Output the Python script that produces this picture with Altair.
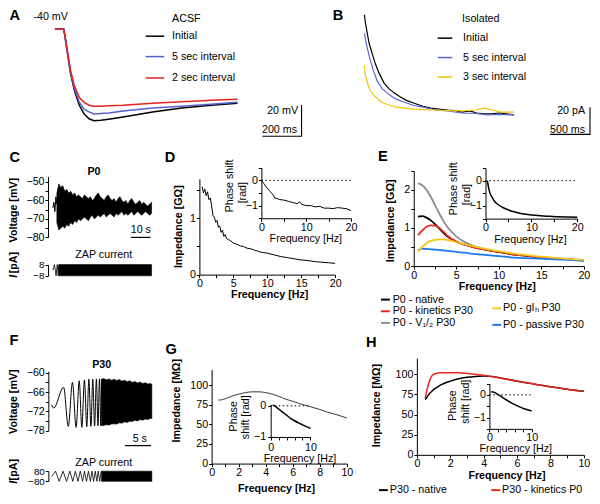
import json
import altair as alt
import pandas as pd

# ------------------------------------------------------------------ data
# A  ACSF: voltage responses (time ms, voltage mV)
a_time = [0, 45, 50, 65, 80, 100, 125, 150, 175, 200, 235, 275, 350, 500, 650, 800, 935]
a_initial = [-40, -40, -43.4, -55.9, -68.4, -79.7, -89.1, -94.7, -97.8, -99.1, -98.8, -98.1, -96.6, -93.4, -90.9, -89.1, -87.8]
a_5s = [-40, -40, -43.4, -55.9, -67.8, -78.4, -87.2, -91.6, -93.4, -94.7, -94.4, -94.1, -92.8, -90.9, -89.7, -88.4, -87.2]
a_2s = [-40, -40, -43.4, -54.7, -66.6, -76.6, -84.1, -87.2, -89.1, -89.7, -89.7, -89.4, -89.1, -87.8, -86.9, -85.9, -85.3]
a_bar_t = [1063, 1263, 1263]
a_bar_v = [-109, -109, -89]

# B  Isolated: currents (time ms, current pA)
b_init_t = [0, 12, 37, 61, 98, 134, 183, 244, 305, 366, 439, 525, 622, 732, 830, 927, 1037, 1135, 1220, 1318, 1403, 1500, 1586, 1684, 1769, 1867]
b_init_i = [73.6, 67.9, 59.3, 52.1, 45.0, 37.9, 30.7, 23.6, 19.3, 16.4, 13.6, 10.7, 8.6, 6.4, 5.0, 4.3, 3.6, 3.2, 2.1, 2.9, 1.4, 0.7, 0.7, 1.4, 0.7, 0]
b_5s_t = [0, 24, 61, 110, 159, 220, 281, 342, 403, 500, 610, 732, 891, 1037, 1220, 1379, 1537, 1684, 1867]
b_5s_i = [60.0, 52.1, 42.9, 32.9, 25.0, 19.3, 16.4, 13.6, 11.4, 9.3, 7.1, 5.7, 3.6, 2.9, 1.4, 1.1, 0, 0.4, 0]
b_3s_t = [0, 12, 37, 73, 122, 183, 244, 317, 403, 500, 610, 744, 891, 1037, 1220, 1379, 1500, 1598, 1708, 1867]
b_3s_i = [36.4, 29.3, 23.6, 17.9, 14.3, 10.7, 8.6, 7.1, 5.7, 5.0, 4.3, 3.9, 3.6, 3.2, 2.9, 3.6, 5.0, 3.6, 2.1, 2.1]
b_bar_t = [2318, 2818, 2818]
b_bar_i = [-14.3, -14.3, 5.7]

# C  P0 ZAP response (time s, voltage mV), envelope of the dense trace
c_start_t = [0, 0.5, 1.0, 1.5, 2.0]
c_start_v = [-64, -61, -66, -58, -62]
c_time = [2, 3, 4, 5, 6, 7, 8, 9, 10, 11, 12, 13, 14, 15, 16, 17, 18, 19, 20, 21, 22, 23, 24, 25, 26,
          27, 28, 29, 30, 31, 32, 33, 34, 35, 36, 37, 38, 39, 40, 41, 42, 43, 44, 45, 46, 47, 48, 49, 50]
c_upper = [-56, -51, -53, -52, -55, -54, -56, -55, -57, -56, -58, -57, -58, -59, -57, -58, -59, -58, -60,
           -59, -57, -56, -58, -59, -60, -58, -57, -59, -60, -59, -61, -59, -58, -60, -61, -60, -62, -60,
           -59, -61, -62, -61, -60, -62, -61, -62, -63, -62, -61]
c_lower = [-72, -76, -75, -74, -75, -73, -74, -72, -73, -71, -72, -70, -71, -70, -69, -70, -71, -69, -68,
           -70, -69, -68, -69, -68, -67, -69, -68, -67, -68, -69, -67, -68, -67, -66, -68, -67, -68, -67,
           -66, -68, -67, -66, -67, -68, -67, -66, -67, -68, -67]
c_bar_t = [39.5, 49.5]
c_bar_v = [-80, -80]
c_zap_t = [0, 0.8, 1.6, 2.2, 2.7, 3.0]
c_zap_i = [0, 8, -8, 8, -8, 8]
c_zapblk_t = [3.0, 50]
c_zapblk_lo = [-8, -8]
c_zapblk_hi = [8, 8]

# D  P0 impedance (Hz, GOhm) and phase (rad)
d_f = [0.4, 0.6, 0.8, 1.0, 1.2, 1.4, 1.6, 1.8, 2.0, 2.2, 2.4, 2.6, 2.8, 3.0, 3.2, 3.4, 3.6, 3.8, 4.0,
       4.3, 4.6, 5.0, 5.5, 6.0, 6.5, 7.0, 7.5, 8.0, 8.5, 9.0, 9.5, 10, 11, 12, 13, 14, 15, 16, 17, 18, 19, 20]
d_z = [1.56, 1.45, 1.52, 1.40, 1.47, 1.33, 1.36, 1.22, 1.05, 1.02, 0.93, 0.96, 0.84, 0.86, 0.75, 0.79, 0.68, 0.71, 0.64,
       0.62, 0.60, 0.56, 0.54, 0.51, 0.50, 0.47, 0.46, 0.44, 0.42, 0.40, 0.39, 0.38, 0.35, 0.32, 0.30, 0.28, 0.26,
       0.25, 0.23, 0.22, 0.21, 0.20]
di_f = [0, 0.5, 1, 1.5, 2, 2.5, 3, 3.5, 4, 5, 6, 7, 8, 8.5, 9, 10, 11, 12, 13, 14, 15, 16, 17, 18, 19, 20]
di_p = [0, -0.12, -0.25, -0.35, -0.45, -0.55, -0.7, -0.72, -0.76, -0.78, -0.83, -0.88, -0.92, -0.85, -0.95,
        -1.0, -1.0, -1.05, -1.03, -1.1, -1.1, -1.12, -1.08, -1.1, -1.12, -1.2]

# E  P0 model impedance (Hz, GOhm)
e_f = [0.5, 1, 1.5, 2, 2.5, 3, 3.5, 4, 5, 6, 7, 8, 10, 12, 14, 16, 18, 20]
e_native = [1.30, 1.31, 1.27, 1.20, 1.10, 0.98, 0.87, 0.77, 0.64, 0.56, 0.50, 0.45, 0.37, 0.30, 0.25, 0.21, 0.18, 0.15]
e_kinetics = [0.81, 0.93, 1.03, 1.07, 1.06, 1.00, 0.90, 0.79, 0.64, 0.56, 0.50, 0.45, 0.37, 0.30, 0.25, 0.21, 0.18, 0.15]
e_vhalf = [2.17, 2.12, 2.00, 1.82, 1.60, 1.38, 1.18, 1.01, 0.78, 0.63, 0.53, 0.46, 0.37, 0.30, 0.25, 0.21, 0.18, 0.15]
e_gh = [0.38, 0.50, 0.60, 0.66, 0.69, 0.70, 0.70, 0.68, 0.63, 0.57, 0.52, 0.47, 0.39, 0.32, 0.27, 0.23, 0.19, 0.16]
e_passive = [0.42, 0.45, 0.45, 0.44, 0.43, 0.42, 0.41, 0.40, 0.37, 0.35, 0.32, 0.30, 0.26, 0.22, 0.20, 0.18, 0.16, 0.14]
ei_f = [0.4, 0.7, 1, 1.5, 2, 2.5, 3, 4, 5, 6, 8, 10, 12, 14, 16, 18, 20]
ei_p = [0, -0.3, -0.5, -0.68, -0.82, -0.91, -0.98, -1.08, -1.16, -1.22, -1.31, -1.36, -1.39, -1.41, -1.43, -1.44, -1.45]

# F  P30 ZAP response (time s, voltage mV / current pA)
f_chirp_t = [0, 0.4, 2.3, 3.2, 4.0, 4.7, 5.3, 5.8, 6.3, 6.75, 7.15, 7.55, 7.9, 8.25, 8.6, 8.9, 9.2, 9.45, 9.6]
f_chirp_v = [-70, -71, -64.5, -76.7, -63, -77, -62.5, -77, -62.2, -76.8, -62, -76.7, -62, -76.6, -61.9, -76.5, -61.9, -76.5, -62]
f_blk_t = [9.6, 10, 10.5, 11, 11.5, 12, 12.5, 13, 13.5, 14, 14.5, 15, 15.5, 16, 16.5, 17, 17.5, 18, 18.5, 19, 19.25]
f_blk_hi = [-62, -61.8, -62.2, -61.9, -62.3, -62, -62.4, -62.1, -62.6, -62.3, -62.8, -62.5, -63, -62.7, -63.2,
            -62.9, -63.3, -63.1, -63.5, -63.3, -63.6]
f_blk_lo = [-76.5, -76.4, -76.2, -76.3, -76, -75.9, -76, -75.6, -75.7, -75.3, -75.5, -75.1, -75.2, -74.8, -75,
            -74.6, -74.8, -74.4, -74.6, -74.2, -74.3]
f_bar_t = [14.1, 19.1]
f_bar_v = [-82.7, -82.7]
f_zap_t = [0, 0.75, 1.44, 2.19, 2.88, 3.5, 4.06, 4.56, 5.06, 5.5, 5.94, 6.31, 6.69, 7.06, 7.44, 7.75, 8.06,
           8.38, 8.69, 8.94, 9.25, 9.5]
f_zap_i = [0, 80, -80, 80, -80, 80, -80, 80, -80, 80, -80, 80, -80, 80, -80, 80, -80, 80, -80, 80, -80, 80]
f_zapblk_t = [9.6, 19.25]
f_zapblk_lo = [-80, -80]
f_zapblk_hi = [80, 80]

# G  P30 impedance (Hz, MOhm) and phase (rad)
g_f = [0.5, 0.8, 1.2, 1.6, 2.0, 2.5, 3.0, 3.5, 4.0, 4.5, 5.0, 5.5, 6.0, 6.5, 7, 7.5, 8, 8.5, 9, 9.5, 10]
g_z = [81, 81.5, 84, 86.7, 88.5, 90.5, 91.5, 91.5, 90.5, 88.5, 85.5, 82, 79.5, 76.5, 74, 71.5, 69, 66, 63.5, 61, 58]
gi_f = [0.5, 1, 2, 3, 4, 5, 6, 7, 8, 9, 10]
gi_p = [0.02, 0.0, -0.1, -0.2, -0.3, -0.4, -0.48, -0.55, -0.61, -0.67, -0.72]

# H  P30 model impedance (Hz, MOhm) and phase (rad)
h_f = [0.5, 0.6, 0.7, 0.8, 0.9, 1.0, 1.25, 1.5, 2, 2.5, 3, 3.5, 4, 5, 6, 7, 8, 9, 10]
h_native = [68.8, 71.5, 74.5, 77, 79, 81, 84.5, 87.5, 91.5, 94.5, 96.3, 97.3, 97.8, 95.5, 91.5, 88, 84.5, 81.5, 79]
h_kinetics = [70.5, 80, 88, 94, 98, 100, 101.5, 102, 102, 101.8, 101, 100, 98.7, 95.5, 91.5, 88, 84.5, 81.5, 79]
hi_f = [0.4, 1, 2, 3, 4, 5, 6, 7, 8, 9, 10]
hi_p = [0.14, 0.12, 0.02, -0.1, -0.22, -0.33, -0.43, -0.52, -0.6, -0.66, -0.71]

# ------------------------------------------------------------------ layout helpers
W, H = 584, 488
SX = 582 / 596
SY = 486 / 500
FONT = "Liberation Sans"
FS = 10.7
LS = 14.6


def X(px):
    return (px - 2) * SX


def Y(py):
    return (py - 3) * SY


def xs(d0, d1, p0, p1):
    return alt.Scale(domain=[d0, d1], range=[X(p0), X(p1)], nice=False, zero=False)


def ys(d0, d1, p0, p1):
    return alt.Scale(domain=[d0, d1], range=[Y(p0), Y(p1)], nice=False, zero=False)


def lbl(shown):
    return "indexof(" + json.dumps(shown) + ", datum.value) >= 0 ? datum.label : ''"


def _axis(**kw):
    base = dict(title=None, grid=False, domainColor="black", domainWidth=1, tickColor="black",
                tickSize=3, tickWidth=1, labelFont=FONT, labelFontSize=FS, labelColor="black",
                labelPadding=1, labelFlush=False, labelOverlap=False, format="~f")
    base.update(kw)
    return alt.Axis(**base)


def xaxis(py, values, shown, **kw):
    return _axis(orient="bottom", offset=Y(py) - H, values=values, labelExpr=lbl(shown), **kw)


def yaxis(px, values, shown, **kw):
    return _axis(orient="left", offset=-X(px), values=values, labelExpr=lbl(shown), **kw)


def df(**cols):
    return pd.DataFrame(cols)


def line(data, xsc, ysc, color, width=1.2, xa=None, ya=None, interp=None, dash=None, ordered=False):
    kw = dict(color=color, strokeWidth=width)
    if interp:
        kw["interpolate"] = interp
    if dash:
        kw["strokeDash"] = dash
    enc = dict(x=alt.X("x:Q", scale=xsc, axis=xa), y=alt.Y("y:Q", scale=ysc, axis=ya))
    if ordered:
        enc["order"] = alt.Order("i:Q")
    return alt.Chart(data).mark_line(**kw).encode(**enc)


def area(data, xsc, ysc, color, ya=None):
    return alt.Chart(data).mark_area(color=color, opacity=1, stroke=color, strokeWidth=0.6).encode(
        x=alt.X("x:Q", scale=xsc, axis=None),
        y=alt.Y("lo:Q", scale=ysc, axis=ya),
        y2=alt.Y2("hi:Q"))


def txt(px, py, s, size=FS, bold=False, italic=False, align="center", angle=0):
    kw = dict(text=s, fontSize=size, font=FONT, align=align, baseline="middle", color="black")
    if bold:
        kw["fontWeight"] = "bold"
    if italic:
        kw["fontStyle"] = "italic"
    if angle:
        kw["angle"] = angle
    return alt.Chart(alt.Data(values=[{}])).mark_text(**kw).encode(x=alt.value(X(px)), y=alt.value(Y(py)))


def seg(px0, px1, py, color, width=1.5):
    return alt.Chart(alt.Data(values=[{}])).mark_rule(color=color, strokeWidth=width).encode(
        x=alt.value(X(px0)), x2=alt.value(X(px1)), y=alt.value(Y(py)))


layers = []

# ------------------------------------------------------------------ A
xA = xs(0, 1000, 50, 250)
yA = ys(-100, -40, 120.5, 24.5)
layers += [
    line(df(x=a_time, y=a_initial), xA, yA, "black", 1.5),
    line(df(x=a_time, y=a_5s), xA, yA, "#5560cc", 1.5),
    line(df(x=a_time, y=a_2s), xA, yA, "#e52421", 1.5),
    line(df(x=a_bar_t, y=a_bar_v, i=[0, 1, 2]), xA, yA, "black", 1.1, ordered=True),
]
layers += [
    txt(9, 11, "A", LS, bold=True),
    txt(28, 12.5, "-40 mV", align="left"),
    txt(170, 14, "ACSF", align="left"),
    seg(143, 162, 32, "black"), txt(170, 32, "Initial", align="left"),
    seg(143, 162, 53, "#5560cc"), txt(170, 53, "5 sec interval", align="left"),
    seg(143, 162, 75, "#e52421"), txt(170, 75, "2 sec interval", align="left"),
    txt(299, 109, "20 mV", align="right"),
    txt(298, 129, "200 ms", align="right"),
]

# ------------------------------------------------------------------ B
xB = xs(0, 2000, 367, 367 + 2000 / 12.2)
yB = ys(0, 80, 113, 113 - 80 * 1.4)
layers += [
    line(df(x=b_init_t, y=b_init_i), xB, yB, "black", 1.2),
    line(df(x=b_5s_t, y=b_5s_i), xB, yB, "#5a66d0", 1.2),
    line(df(x=b_3s_t, y=b_3s_i), xB, yB, "#f2c200", 1.2),
    line(df(x=b_bar_t, y=b_bar_i, i=[0, 1, 2]), xB, yB, "black", 1.1, ordered=True),
]
layers += [
    txt(340, 11, "B", LS, bold=True),
    txt(467, 14, "Isolated", align="left"),
    seg(442, 457, 34, "black"), txt(468, 34, "Initial", align="left"),
    seg(442, 457, 54, "#5a66d0"), txt(468, 54, "5 sec interval", align="left"),
    seg(442, 457, 74, "#f2c200"), txt(468, 74, "3 sec interval", align="left"),
    txt(593, 109, "20 pA", align="right"),
    txt(593, 128, "500 ms", align="right"),
]

# ------------------------------------------------------------------ C
xC = xs(0, 50, 48, 149)
yCv = ys(-80, -47, 239, 176.3)
yCi = ys(-8, 8, 278.5, 267)
layers += [
    area(df(x=c_time, lo=c_lower, hi=c_upper), xC, yCv, "black",
         ya=yaxis(43, [-80, -75, -70, -65, -60, -55, -50], [-80, -70, -60, -50])),
    line(df(x=c_start_t, y=c_start_v), xC, yCv, "black", 1),
    line(df(x=c_bar_t, y=c_bar_v), xC, yCv, "black", 1.2),
    area(df(x=c_zapblk_t, lo=c_zapblk_lo, hi=c_zapblk_hi), xC, yCi, "black",
         ya=yaxis(43, [-8, 8], [-8, 8], labelFontSize=9.8)),
    line(df(x=c_zap_t, y=c_zap_i), xC, yCi, "black", 0.8),
]
layers += [
    txt(9, 157, "C", LS, bold=True),
    txt(90, 172, "P0", bold=True),
    txt(8.5, 211, "Voltage [mV]", bold=True, angle=270),
    txt(138, 231.5, "10 s"),
    txt(100, 257, "ZAP current"),
    txt(8.5, 265, "[pA]", bold=True, angle=270),
    txt(8.5, 279, "I", bold=True, italic=True, angle=270),
]

# ------------------------------------------------------------------ D
xD = xs(0, 20, 198, 337)
yD = ys(0, 1.7, 277.3, 178.7)
xDi = xs(0, 20, 261.5, 353.3)
yDi = ys(-1.5, 0.5, 219.3, 167.3)
layers += [
    line(df(x=d_f, y=d_z), xD, yD, "black", 1,
         xa=xaxis(277.3, [0, 2.5, 5, 7.5, 10, 12.5, 15, 17.5, 20], [0, 5, 10, 15, 20]),
         ya=yaxis(198, [0, 0.5, 1, 1.5], [0, 1])),
    line(df(x=[0, 20], y=[0, 0]), xDi, yDi, "black", 1, dash=[1.5, 2.5]),
    line(df(x=di_f, y=di_p), xDi, yDi, "black", 1,
         xa=xaxis(219.3, [0, 5, 10, 15, 20], [0, 10, 20]),
         ya=yaxis(261.5, [-1.5, -1, -0.5, 0, 0.5], [-1, 0])),
]
layers += [
    txt(168, 157, "D", LS, bold=True),
    txt(177, 228, "Impedance [GΩ]", bold=True, angle=270),
    txt(270, 298, "Frequency [Hz]", bold=True),
    txt(229, 186, "Phase shift", angle=270),
    txt(242.5, 193, "[rad]", angle=270),
    txt(307, 241, "Frequency [Hz]"),
]

# ------------------------------------------------------------------ E
xE = xs(0, 20, 417.5, 591.7)
yE = ys(0, 2.5, 268.5, 170.5)
xEi = xs(0, 20, 491, 585)
yEi = ys(-1.5, 0.5, 219.7, 167.7)
e_cols = [(e_vhalf, "#8c8c8c"), (e_native, "black"), (e_kinetics, "#e8281e"),
          (e_passive, "#1e78f0"), (e_gh, "#f5c518")]
for k, (vals, col) in enumerate(e_cols):
    if k == 0:
        layers.append(line(df(x=e_f, y=vals), xE, yE, col, 1.8, interp="monotone",
                           xa=xaxis(268.5, [0, 2.5, 5, 7.5, 10, 12.5, 15, 17.5, 20], [0, 5, 10, 15, 20]),
                           ya=yaxis(417.5, [0, 0.5, 1, 1.5, 2, 2.5], [0, 1, 2])))
    else:
        layers.append(line(df(x=e_f, y=vals), xE, yE, col, 1.8, interp="monotone"))
layers += [
    line(df(x=[0, 20], y=[0, 0]), xEi, yEi, "black", 1, dash=[1.5, 2.5]),
    line(df(x=ei_f, y=ei_p), xEi, yEi, "black", 1.5, interp="monotone",
         xa=xaxis(219.7, [0, 5, 10, 15, 20], [0, 10, 20]),
         ya=yaxis(491, [-1.5, -1, -0.5, 0, 0.5], [-1, 0])),
]
layers += [
    txt(386, 156, "E", LS, bold=True),
    txt(394, 222, "Impedance [GΩ]", bold=True, angle=270),
    txt(503, 290.5, "Frequency [Hz]", bold=True),
    txt(458.5, 189, "Phase shift", angle=270),
    txt(472, 195, "[rad]", angle=270),
    txt(537, 241.5, "Frequency [Hz]"),
    seg(384, 393, 303, "black", 2), txt(396, 303, "P0 - native", align="left"),
    seg(384, 393, 315, "#e8281e", 2), txt(396, 315, "P0 - kinetics P30", align="left"),
    seg(384, 393, 327, "#8c8c8c", 2), txt(396, 327, "P0 - V₁/₂ P30", align="left"),
    seg(498, 507, 312, "#f5c518", 2), txt(509, 312, "P0 - gIₕ P30", align="left"),
    seg(498, 507, 329, "#1e78f0", 2), txt(509, 329, "P0 - passive P30", align="left"),
]

# ------------------------------------------------------------------ F
xF = xs(0, 19.25, 46.7, 149.3)
yFv = ys(-78, -59.5, 437.7, 376.65)
yFi = ys(-80, 80, 490, 479.5)
layers += [
    area(df(x=f_blk_t, lo=f_blk_lo, hi=f_blk_hi), xF, yFv, "black",
         ya=yaxis(43.3, [-78, -75, -72, -69, -66, -63, -60], [-78, -72, -66, -60])),
    line(df(x=f_chirp_t, y=f_chirp_v), xF, yFv, "black", 1, interp="monotone"),
    line(df(x=f_bar_t, y=f_bar_v), xF, yFv, "black", 1.2),
    area(df(x=f_zapblk_t, lo=f_zapblk_lo, hi=f_zapblk_hi), xF, yFi, "black",
         ya=yaxis(43.3, [-80, 80], [-80, 80], labelFontSize=9.8)),
    line(df(x=f_zap_t, y=f_zap_i), xF, yFi, "black", 0.8),
]
layers += [
    txt(8, 346, "F", LS, bold=True),
    txt(98, 370, "P30", bold=True),
    txt(8.5, 408, "Voltage [mV]", bold=True, angle=270),
    txt(137, 446.5, "5 s"),
    txt(100, 471.5, "ZAP current"),
    txt(8.5, 478, "[pA]", bold=True, angle=270),
    txt(8.5, 491, "I", bold=True, italic=True, angle=270),
]

# ------------------------------------------------------------------ G
xG = xs(0, 10, 210.5, 349)
yG = ys(0, 120, 471.7, 374.9)
xGi = xs(0, 10, 271, 311.7)
yGi = ys(-1, 0.05, 444.3, 410.7)
layers += [
    line(df(x=g_f, y=g_z), xG, yG, "#222222", 0.9, interp="monotone",
         xa=xaxis(471.7, [0, 1, 2, 3, 4, 5, 6, 7, 8, 9, 10], [0, 2, 4, 6, 8, 10]),
         ya=yaxis(210.5, [0, 25, 50, 75, 100], [0, 25, 50, 75, 100])),
    line(df(x=[0, 10], y=[0, 0]), xGi, yGi, "black", 1, dash=[1.5, 2.5]),
    line(df(x=gi_f, y=gi_p), xGi, yGi, "black", 1.5, interp="monotone",
         xa=xaxis(444.3, [0, 2, 4, 6, 8, 10], [0, 10], labelPadding=2.5),
         ya=yaxis(271, [-1, 0], [-1, 0], labelPadding=2)),
]
layers += [
    txt(169, 355, "G", LS, bold=True),
    txt(175, 407, "Impedance [MΩ]", bold=True, angle=270),
    txt(277, 497.5, "Frequency [Hz]", bold=True),
    txt(233, 423, "Phase", angle=270),
    txt(246, 424, "shift [rad]", angle=270),
    txt(301, 466.5, "Frequency [Hz]"),
]

# ------------------------------------------------------------------ H
xH = xs(0, 10, 420.7, 591.7)
yH = ys(0, 120, 462.7, 363.3)
xHi = xs(0, 10, 495, 538.3)
yHi = ys(-1.5, 0.5, 436, 389.35)
layers += [
    line(df(x=h_f, y=h_native), xH, yH, "black", 1.5, interp="monotone",
         xa=xaxis(462.7, [0, 1, 2, 3, 4, 5, 6, 7, 8, 9, 10], [0, 2, 4, 6, 8, 10]),
         ya=yaxis(420.7, [0, 25, 50, 75, 100], [0, 25, 50, 75, 100])),
    line(df(x=h_f, y=h_kinetics), xH, yH, "#e8281e", 1.5, interp="monotone"),
    line(df(x=[0, 10], y=[0, 0]), xHi, yHi, "black", 1, dash=[1.5, 2.5]),
    line(df(x=hi_f, y=hi_p), xHi, yHi, "black", 1.5, interp="monotone",
         xa=xaxis(436, [0, 2, 4, 6, 8, 10], [0, 10]),
         ya=yaxis(495, [-1.5, -1, -0.5, 0, 0.5], [-1, 0])),
]
layers += [
    txt(374, 348, "H", LS, bold=True),
    txt(380, 412, "Impedance [MΩ]", bold=True, angle=270),
    txt(513, 484, "Frequency [Hz]", bold=True),
    txt(457.5, 412, "Phase", angle=270),
    txt(471, 408, "shift [rad]", angle=270),
    txt(522, 457, "Frequency [Hz]"),
    seg(382, 391, 499, "black", 2), txt(393, 499, "P30 - native", align="left"),
    seg(497, 506, 499, "#e8281e", 2), txt(508, 499, "P30 - kinetics P0", align="left"),
]

chart = alt.layer(*layers).resolve_scale(x="independent", y="independent").properties(
    width=W, height=H, autosize=alt.AutoSizeParams(type="none"), padding=0
).configure_view(stroke=None)

chart.save("out.html", embed_options={"renderer": "svg", "actions": False})
